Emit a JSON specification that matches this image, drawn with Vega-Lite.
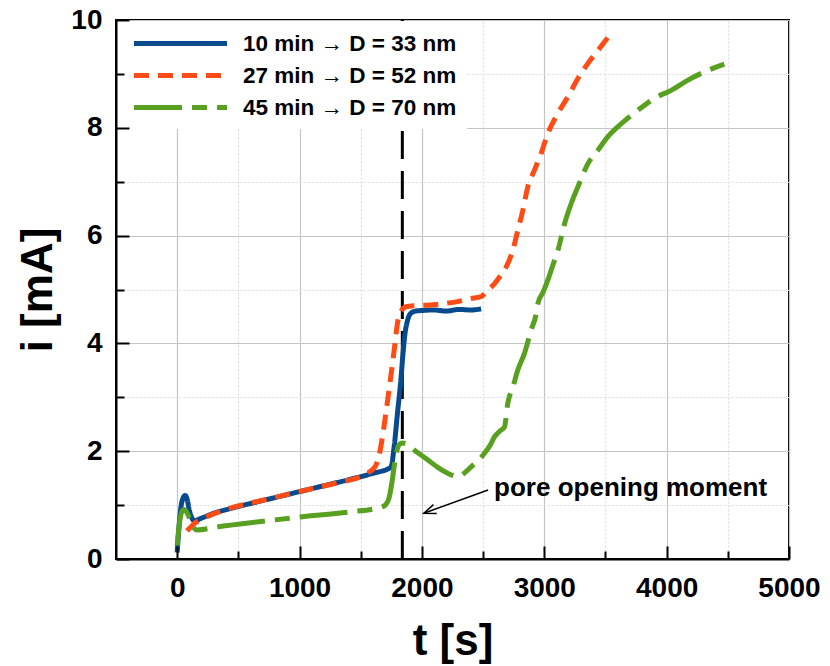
{
  "$schema": "https://vega.github.io/schema/vega-lite/v6.json",
  "width": 673,
  "height": 539,
  "autosize": "none",
  "padding": {"left": 116, "top": 20, "right": 41, "bottom": 107},
  "background": "white",
  "config": {
    "font": "Liberation Sans",
    "view": {"stroke": "black", "strokeWidth": 2},
    "legend": {
      "orient": "none",
      "legendX": 1,
      "legendY": 1,
      "fillColor": "white",
      "padding": 10,
      "title": null,
      "labelFont": "Liberation Sans",
      "labelFontSize": 22.5,
      "labelFontWeight": "bold",
      "labelColor": "black",
      "labelLimit": 400,
      "symbolType": "M-4.65,0H4.65",
      "symbolSize": 400,
      "symbolStrokeWidth": 5,
      "symbolOffset": 41,
      "labelOffset": 50,
      "rowPadding": 8,
      "zindex": 1
    }
  },
  "datasets": {
    "curves": [
      {"s": "10 min → D = 33 nm", "t": 0, "i": 0.12},
      {"s": "10 min → D = 33 nm", "t": 15, "i": 0.6},
      {"s": "10 min → D = 33 nm", "t": 30, "i": 0.95},
      {"s": "10 min → D = 33 nm", "t": 50, "i": 1.14},
      {"s": "10 min → D = 33 nm", "t": 65, "i": 1.18},
      {"s": "10 min → D = 33 nm", "t": 80, "i": 1.12},
      {"s": "10 min → D = 33 nm", "t": 100, "i": 0.9},
      {"s": "10 min → D = 33 nm", "t": 120, "i": 0.76},
      {"s": "10 min → D = 33 nm", "t": 140, "i": 0.71},
      {"s": "10 min → D = 33 nm", "t": 200, "i": 0.76},
      {"s": "10 min → D = 33 nm", "t": 300, "i": 0.85},
      {"s": "10 min → D = 33 nm", "t": 460, "i": 0.95},
      {"s": "10 min → D = 33 nm", "t": 600, "i": 1.03},
      {"s": "10 min → D = 33 nm", "t": 800, "i": 1.14},
      {"s": "10 min → D = 33 nm", "t": 1000, "i": 1.25},
      {"s": "10 min → D = 33 nm", "t": 1200, "i": 1.36},
      {"s": "10 min → D = 33 nm", "t": 1400, "i": 1.47},
      {"s": "10 min → D = 33 nm", "t": 1600, "i": 1.59},
      {"s": "10 min → D = 33 nm", "t": 1746, "i": 1.7},
      {"s": "10 min → D = 33 nm", "t": 1773, "i": 2.08},
      {"s": "10 min → D = 33 nm", "t": 1800, "i": 2.7},
      {"s": "10 min → D = 33 nm", "t": 1828, "i": 3.32},
      {"s": "10 min → D = 33 nm", "t": 1845, "i": 3.8},
      {"s": "10 min → D = 33 nm", "t": 1860, "i": 4.15},
      {"s": "10 min → D = 33 nm", "t": 1883, "i": 4.43},
      {"s": "10 min → D = 33 nm", "t": 1910, "i": 4.56},
      {"s": "10 min → D = 33 nm", "t": 1950, "i": 4.6},
      {"s": "10 min → D = 33 nm", "t": 2000, "i": 4.61},
      {"s": "10 min → D = 33 nm", "t": 2100, "i": 4.62},
      {"s": "10 min → D = 33 nm", "t": 2200, "i": 4.6},
      {"s": "10 min → D = 33 nm", "t": 2300, "i": 4.63},
      {"s": "10 min → D = 33 nm", "t": 2400, "i": 4.62},
      {"s": "10 min → D = 33 nm", "t": 2484, "i": 4.64},

      {"s": "27 min → D = 52 nm", "t": 80, "i": 0.52},
      {"s": "27 min → D = 52 nm", "t": 130, "i": 0.64},
      {"s": "27 min → D = 52 nm", "t": 200, "i": 0.74},
      {"s": "27 min → D = 52 nm", "t": 300, "i": 0.84},
      {"s": "27 min → D = 52 nm", "t": 460, "i": 0.96},
      {"s": "27 min → D = 52 nm", "t": 700, "i": 1.09},
      {"s": "27 min → D = 52 nm", "t": 1000, "i": 1.25},
      {"s": "27 min → D = 52 nm", "t": 1300, "i": 1.41},
      {"s": "27 min → D = 52 nm", "t": 1500, "i": 1.53},
      {"s": "27 min → D = 52 nm", "t": 1560, "i": 1.6},
      {"s": "27 min → D = 52 nm", "t": 1620, "i": 1.72},
      {"s": "27 min → D = 52 nm", "t": 1650, "i": 1.92},
      {"s": "27 min → D = 52 nm", "t": 1680, "i": 2.3},
      {"s": "27 min → D = 52 nm", "t": 1705, "i": 2.7},
      {"s": "27 min → D = 52 nm", "t": 1735, "i": 3.2},
      {"s": "27 min → D = 52 nm", "t": 1760, "i": 3.63},
      {"s": "27 min → D = 52 nm", "t": 1780, "i": 4.0},
      {"s": "27 min → D = 52 nm", "t": 1800, "i": 4.37},
      {"s": "27 min → D = 52 nm", "t": 1830, "i": 4.6},
      {"s": "27 min → D = 52 nm", "t": 1870, "i": 4.68},
      {"s": "27 min → D = 52 nm", "t": 1950, "i": 4.7},
      {"s": "27 min → D = 52 nm", "t": 2050, "i": 4.71},
      {"s": "27 min → D = 52 nm", "t": 2183, "i": 4.74},
      {"s": "27 min → D = 52 nm", "t": 2300, "i": 4.78},
      {"s": "27 min → D = 52 nm", "t": 2400, "i": 4.83},
      {"s": "27 min → D = 52 nm", "t": 2484, "i": 4.87},
      {"s": "27 min → D = 52 nm", "t": 2539, "i": 4.99},
      {"s": "27 min → D = 52 nm", "t": 2594, "i": 5.11},
      {"s": "27 min → D = 52 nm", "t": 2640, "i": 5.25},
      {"s": "27 min → D = 52 nm", "t": 2689, "i": 5.42},
      {"s": "27 min → D = 52 nm", "t": 2743, "i": 5.73},
      {"s": "27 min → D = 52 nm", "t": 2784, "i": 6.1},
      {"s": "27 min → D = 52 nm", "t": 2825, "i": 6.47},
      {"s": "27 min → D = 52 nm", "t": 2866, "i": 6.91},
      {"s": "27 min → D = 52 nm", "t": 2921, "i": 7.22},
      {"s": "27 min → D = 52 nm", "t": 2975, "i": 7.53},
      {"s": "27 min → D = 52 nm", "t": 3030, "i": 7.9},
      {"s": "27 min → D = 52 nm", "t": 3112, "i": 8.27},
      {"s": "27 min → D = 52 nm", "t": 3194, "i": 8.58},
      {"s": "27 min → D = 52 nm", "t": 3276, "i": 8.92},
      {"s": "27 min → D = 52 nm", "t": 3358, "i": 9.2},
      {"s": "27 min → D = 52 nm", "t": 3440, "i": 9.44},
      {"s": "27 min → D = 52 nm", "t": 3535, "i": 9.72},

      {"s": "45 min → D = 70 nm", "t": 0, "i": 0.25},
      {"s": "45 min → D = 70 nm", "t": 15, "i": 0.6},
      {"s": "45 min → D = 70 nm", "t": 35, "i": 0.86},
      {"s": "45 min → D = 70 nm", "t": 55, "i": 0.92},
      {"s": "45 min → D = 70 nm", "t": 75, "i": 0.88},
      {"s": "45 min → D = 70 nm", "t": 100, "i": 0.76},
      {"s": "45 min → D = 70 nm", "t": 130, "i": 0.6},
      {"s": "45 min → D = 70 nm", "t": 160, "i": 0.54},
      {"s": "45 min → D = 70 nm", "t": 339, "i": 0.6},
      {"s": "45 min → D = 70 nm", "t": 700, "i": 0.7},
      {"s": "45 min → D = 70 nm", "t": 1008, "i": 0.78},
      {"s": "45 min → D = 70 nm", "t": 1400, "i": 0.87},
      {"s": "45 min → D = 70 nm", "t": 1664, "i": 0.96},
      {"s": "45 min → D = 70 nm", "t": 1700, "i": 1.0},
      {"s": "45 min → D = 70 nm", "t": 1730, "i": 1.12},
      {"s": "45 min → D = 70 nm", "t": 1750, "i": 1.35},
      {"s": "45 min → D = 70 nm", "t": 1773, "i": 1.71},
      {"s": "45 min → D = 70 nm", "t": 1790, "i": 1.95},
      {"s": "45 min → D = 70 nm", "t": 1814, "i": 2.12},
      {"s": "45 min → D = 70 nm", "t": 1840, "i": 2.15},
      {"s": "45 min → D = 70 nm", "t": 1869, "i": 2.14},
      {"s": "45 min → D = 70 nm", "t": 1950, "i": 2.0},
      {"s": "45 min → D = 70 nm", "t": 2047, "i": 1.84},
      {"s": "45 min → D = 70 nm", "t": 2130, "i": 1.7},
      {"s": "45 min → D = 70 nm", "t": 2211, "i": 1.59},
      {"s": "45 min → D = 70 nm", "t": 2293, "i": 1.53},
      {"s": "45 min → D = 70 nm", "t": 2350, "i": 1.6},
      {"s": "45 min → D = 70 nm", "t": 2402, "i": 1.71},
      {"s": "45 min → D = 70 nm", "t": 2460, "i": 1.82},
      {"s": "45 min → D = 70 nm", "t": 2511, "i": 1.96},
      {"s": "45 min → D = 70 nm", "t": 2560, "i": 2.12},
      {"s": "45 min → D = 70 nm", "t": 2594, "i": 2.27},
      {"s": "45 min → D = 70 nm", "t": 2640, "i": 2.38},
      {"s": "45 min → D = 70 nm", "t": 2675, "i": 2.45},
      {"s": "45 min → D = 70 nm", "t": 2702, "i": 2.89},
      {"s": "45 min → D = 70 nm", "t": 2745, "i": 3.2},
      {"s": "45 min → D = 70 nm", "t": 2784, "i": 3.51},
      {"s": "45 min → D = 70 nm", "t": 2839, "i": 3.82},
      {"s": "45 min → D = 70 nm", "t": 2893, "i": 4.25},
      {"s": "45 min → D = 70 nm", "t": 2934, "i": 4.55},
      {"s": "45 min → D = 70 nm", "t": 2948, "i": 4.74},
      {"s": "45 min → D = 70 nm", "t": 2990, "i": 4.95},
      {"s": "45 min → D = 70 nm", "t": 3030, "i": 5.18},
      {"s": "45 min → D = 70 nm", "t": 3070, "i": 5.45},
      {"s": "45 min → D = 70 nm", "t": 3112, "i": 5.73},
      {"s": "45 min → D = 70 nm", "t": 3167, "i": 6.23},
      {"s": "45 min → D = 70 nm", "t": 3221, "i": 6.6},
      {"s": "45 min → D = 70 nm", "t": 3276, "i": 6.91},
      {"s": "45 min → D = 70 nm", "t": 3358, "i": 7.34},
      {"s": "45 min → D = 70 nm", "t": 3440, "i": 7.59},
      {"s": "45 min → D = 70 nm", "t": 3522, "i": 7.84},
      {"s": "45 min → D = 70 nm", "t": 3631, "i": 8.08},
      {"s": "45 min → D = 70 nm", "t": 3768, "i": 8.33},
      {"s": "45 min → D = 70 nm", "t": 3904, "i": 8.55},
      {"s": "45 min → D = 70 nm", "t": 4041, "i": 8.7},
      {"s": "45 min → D = 70 nm", "t": 4178, "i": 8.89},
      {"s": "45 min → D = 70 nm", "t": 4342, "i": 9.07},
      {"s": "45 min → D = 70 nm", "t": 4533, "i": 9.23}
    ],
    "moment": [{"t": 1840, "i": 0, "i2": 10}],
    "arrow": [{"t": 2541, "i": 1.28, "t2": 2016, "i2": 0.85}],
    "tip": [{"t": 2016, "i": 0.85}],
    "note": [{"t": 2590, "i": 1.17, "label": "pore opening moment"}]
  },
  "layer": [
    {
      "data": {"name": "moment"},
      "mark": {"type": "rule", "color": "black", "strokeWidth": 3, "strokeDash": [28, 12]},
      "encoding": {
        "x": {
          "field": "t",
          "type": "quantitative",
          "scale": {"domain": [-500, 5000], "nice": false, "zero": false},
          "axis": {
            "orient": "top",
            "title": null,
            "values": [0, 500, 1000, 1500, 2000, 2500, 3000, 3500, 4000, 4500, 5000],
            "labels": false,
            "ticks": false,
            "domain": false,
            "grid": true,
            "gridColor": {"condition": {"test": "datum.value % 1000 === 0", "value": "#c4c4c4"}, "value": "#dcdcdc"},
            "gridDash": {"condition": {"test": "datum.value % 1000 === 0", "value": []}, "value": [2, 2]},
            "gridWidth": 1.2,
            "zindex": 0
          }
        },
        "y": {
          "field": "i",
          "type": "quantitative",
          "scale": {"domain": [0, 10], "nice": false},
          "axis": {
            "orient": "right",
            "title": null,
            "values": [0, 1, 2, 3, 4, 5, 6, 7, 8, 9, 10],
            "labels": false,
            "ticks": false,
            "domain": false,
            "grid": true,
            "gridColor": {"condition": {"test": "datum.value % 2 === 0", "value": "#c4c4c4"}, "value": "#dcdcdc"},
            "gridDash": {"condition": {"test": "datum.value % 2 === 0", "value": []}, "value": [2, 2]},
            "gridWidth": 1.2,
            "zindex": 0
          }
        },
        "y2": {"field": "i2"}
      }
    },
    {
      "data": {"name": "curves"},
      "mark": {"type": "line", "strokeWidth": 5, "strokeCap": "butt", "interpolate": "monotone"},
      "encoding": {
        "x": {
          "field": "t",
          "type": "quantitative",
          "axis": {
            "orient": "bottom",
            "title": "t [s]",
            "values": [0, 500, 1000, 1500, 2000, 2500, 3000, 3500, 4000, 4500, 5000],
            "format": "d",
            "labelExpr": "datum.value % 1000 === 0 ? datum.label : ''",
            "labelFont": "Liberation Sans",
            "labelFontSize": 28,
            "labelFontWeight": "bold",
            "labelColor": "black",
            "labelPadding": 28,
            "labelFlush": false,
            "labelOverlap": false,
            "tickColor": "black",
            "tickWidth": 2,
            "tickSize": {"condition": {"test": "datum.value % 1000 === 0", "value": -13}, "value": -8},
            "domainColor": "black",
            "domainWidth": 2,
            "grid": false,
            "titleFont": "Liberation Sans",
            "titleFontSize": 44,
            "titleFontWeight": "bold",
            "titleColor": "black",
            "titlePadding": 12,
            "zindex": 2
          }
        },
        "y": {
          "field": "i",
          "type": "quantitative",
          "axis": {
            "orient": "left",
            "title": "i [mA]",
            "values": [0, 1, 2, 3, 4, 5, 6, 7, 8, 9, 10],
            "labelExpr": "datum.value % 2 === 0 ? datum.label : ''",
            "labelFont": "Liberation Sans",
            "labelFontSize": 28,
            "labelFontWeight": "bold",
            "labelColor": "black",
            "labelPadding": 27,
            "labelOverlap": false,
            "tickColor": "black",
            "tickWidth": 2,
            "tickSize": {"condition": {"test": "datum.value % 2 === 0", "value": -13}, "value": -8},
            "domainColor": "black",
            "domainWidth": 2,
            "grid": false,
            "titleFont": "Liberation Sans",
            "titleFontSize": 44,
            "titleFontWeight": "bold",
            "titleColor": "black",
            "titlePadding": 10,
            "zindex": 2
          }
        },
        "color": {
          "field": "s",
          "type": "nominal",
          "scale": {
            "domain": ["10 min → D = 33 nm", "27 min → D = 52 nm", "45 min → D = 70 nm"],
            "range": ["#074b8e", "#ff4b14", "#58a01f"]
          }
        },
        "strokeDash": {
          "field": "s",
          "type": "nominal",
          "scale": {
            "domain": ["10 min → D = 33 nm", "27 min → D = 52 nm", "45 min → D = 70 nm"],
            "range": [[1, 0], [15, 9], [48, 10, 15, 10]]
          }
        }
      }
    },
    {
      "data": {"name": "arrow"},
      "mark": {"type": "rule", "color": "black", "strokeWidth": 1.5},
      "encoding": {
        "x": {"field": "t", "type": "quantitative", "axis": null},
        "y": {"field": "i", "type": "quantitative", "axis": null},
        "x2": {"field": "t2"},
        "y2": {"field": "i2"}
      }
    },
    {
      "data": {"name": "tip"},
      "mark": {"type": "point", "shape": "M-0.4,1L0,0L0.4,1", "size": 576, "angle": 250, "filled": false, "stroke": "black", "strokeWidth": 1.5, "opacity": 1},
      "encoding": {
        "x": {"field": "t", "type": "quantitative", "axis": null},
        "y": {"field": "i", "type": "quantitative", "axis": null}
      }
    },
    {
      "data": {"name": "note"},
      "mark": {"type": "text", "align": "left", "baseline": "alphabetic", "font": "Liberation Sans", "fontSize": 26, "fontWeight": "bold", "color": "black"},
      "encoding": {
        "x": {"field": "t", "type": "quantitative", "axis": null},
        "y": {"field": "i", "type": "quantitative", "axis": null},
        "text": {"field": "label"}
      }
    }
  ],
  "resolve": {"axis": {"x": "independent", "y": "independent"}}
}
